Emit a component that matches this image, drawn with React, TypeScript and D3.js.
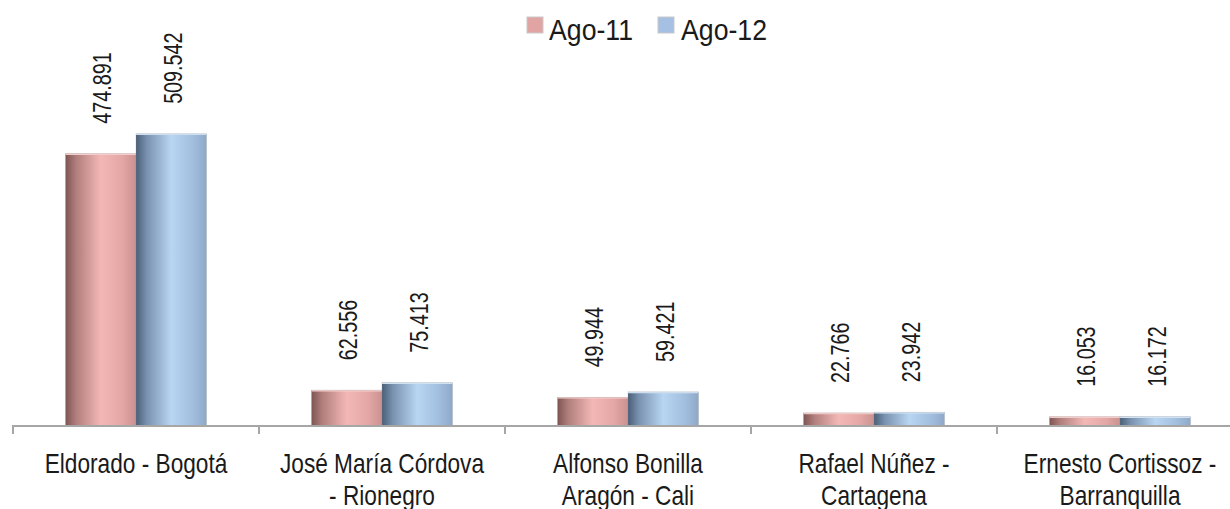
import React from "react";
import * as d3 from "d3";

const categories: string[][] = [
  ["Eldorado - Bogotá"],
  ["José María Córdova", "- Rionegro"],
  ["Alfonso Bonilla", "Aragón - Cali"],
  ["Rafael Núñez -", "Cartagena"],
  ["Ernesto Cortissoz -", "Barranquilla"],
];
const seriesNames = ["Ago-11", "Ago-12"];
const ago11 = [474891, 62556, 49944, 22766, 16053];
const ago12 = [509542, 75413, 59421, 23942, 16172];

const W = 1230;
const H = 509;
const baseY = 426;
const SANS = "'Liberation Sans', Arial, sans-serif";

const fmt = (v: number) => d3.format(",")(v).replace(/,/g, ".");

export default function App() {
  const keys = categories.map((c) => c.join(" "));
  const x = d3.scaleBand<string>().domain(keys).range([13, 13 + 246 * 5]).paddingInner(0).paddingOuter(0);
  const xs = d3.scaleBand<string>().domain(seriesNames).range([0, x.bandwidth()]).paddingInner(0).paddingOuter(0.745);
  const y = d3.scaleLinear().domain([0, 600000]).range([baseY, baseY - 344]);
  const data = [ago11, ago12];
  const gradIds = ["gPink", "gBlue"];

  return (
    <svg width={W} height={H} style={{ position: "absolute", left: 0, top: 0, background: "#fff" }}>
      <defs>
        <linearGradient id="gPink" x1="0" x2="1" y1="0" y2="0">
          <stop offset="0" stopColor="#7d5553" />
          <stop offset="0.15" stopColor="#b07e7c" />
          <stop offset="0.5" stopColor="#f3b8b6" />
          <stop offset="0.8" stopColor="#e4a7a5" />
          <stop offset="1" stopColor="#c99290" />
        </linearGradient>
        <linearGradient id="gBlue" x1="0" x2="1" y1="0" y2="0">
          <stop offset="0" stopColor="#4a5f78" />
          <stop offset="0.15" stopColor="#7891ae" />
          <stop offset="0.5" stopColor="#b8d5f2" />
          <stop offset="0.8" stopColor="#a3bfdf" />
          <stop offset="1" stopColor="#8ea8c8" />
        </linearGradient>
      </defs>

      {/* legend */}
      <g>
        <rect x={527} y={17} width={16} height={16} fill="#e0a5a3" stroke="#c9c9c9" strokeWidth={1} />
        <text transform="translate(549,40) scale(0.92,1)" fontFamily={SANS} fontSize={29} fill="#1a1a1a">{seriesNames[0]}</text>
        <rect x={658} y={17} width={16} height={16} fill="#a5c0e2" stroke="#c9c9c9" strokeWidth={1} />
        <text transform="translate(681,40) scale(0.92,1)" fontFamily={SANS} fontSize={29} fill="#1a1a1a">{seriesNames[1]}</text>
      </g>

      {/* bars */}
      {keys.map((k, i) => (
        <g key={k} transform={`translate(${x(k)},0)`}>
          {seriesNames.map((s, j) => {
            const v = data[j][i];
            const bx = xs(s)!;
            const bw = xs.bandwidth();
            const top = y(v);
            return (
              <g key={s}>
                <rect x={bx} y={top} width={bw} height={baseY - top} fill={`url(#${gradIds[j]})`} />
                <line x1={bx} x2={bx + bw} y1={top + 0.5} y2={top + 0.5} stroke={j === 0 ? "#f7d0ce" : "#d6e6f6"} strokeWidth={1.5} />
                <rect x={bx} y={top} width={bw} height={baseY - top} fill="none" stroke="rgba(150,150,150,0.35)" strokeWidth={0.8} />
                <text
                  transform={`translate(${bx + bw / 2 + 10.5},${top - 30}) rotate(-90) scale(0.76,1)`}
                  fontFamily={SANS}
                  fontSize={26}
                  fill="#1a1a1a"
                >
                  {fmt(v)}
                </text>
              </g>
            );
          })}
        </g>
      ))}

      {/* axis */}
      <line x1={12} x2={W} y1={baseY} y2={baseY} stroke="#a6a6a6" strokeWidth={2} />
      {d3.range(keys.length + 1).map((i) => {
        const tx = 13 + 246 * i;
        return <line key={i} x1={tx} x2={tx} y1={baseY} y2={baseY + 8} stroke="#a6a6a6" strokeWidth={2} />;
      })}

      {/* category labels */}
      {categories.map((lines, i) => (
        <text
          key={i}
          transform={`translate(${x(keys[i])! + x.bandwidth() / 2},473) scale(0.84,1)`}
          textAnchor="middle"
          fontFamily={SANS}
          fontSize={27}
          fill="#1a1a1a"
        >
          {lines.map((l, li) => (
            <tspan key={li} x={0} dy={li === 0 ? 0 : 32}>
              {l}
            </tspan>
          ))}
        </text>
      ))}
    </svg>
  );
}
